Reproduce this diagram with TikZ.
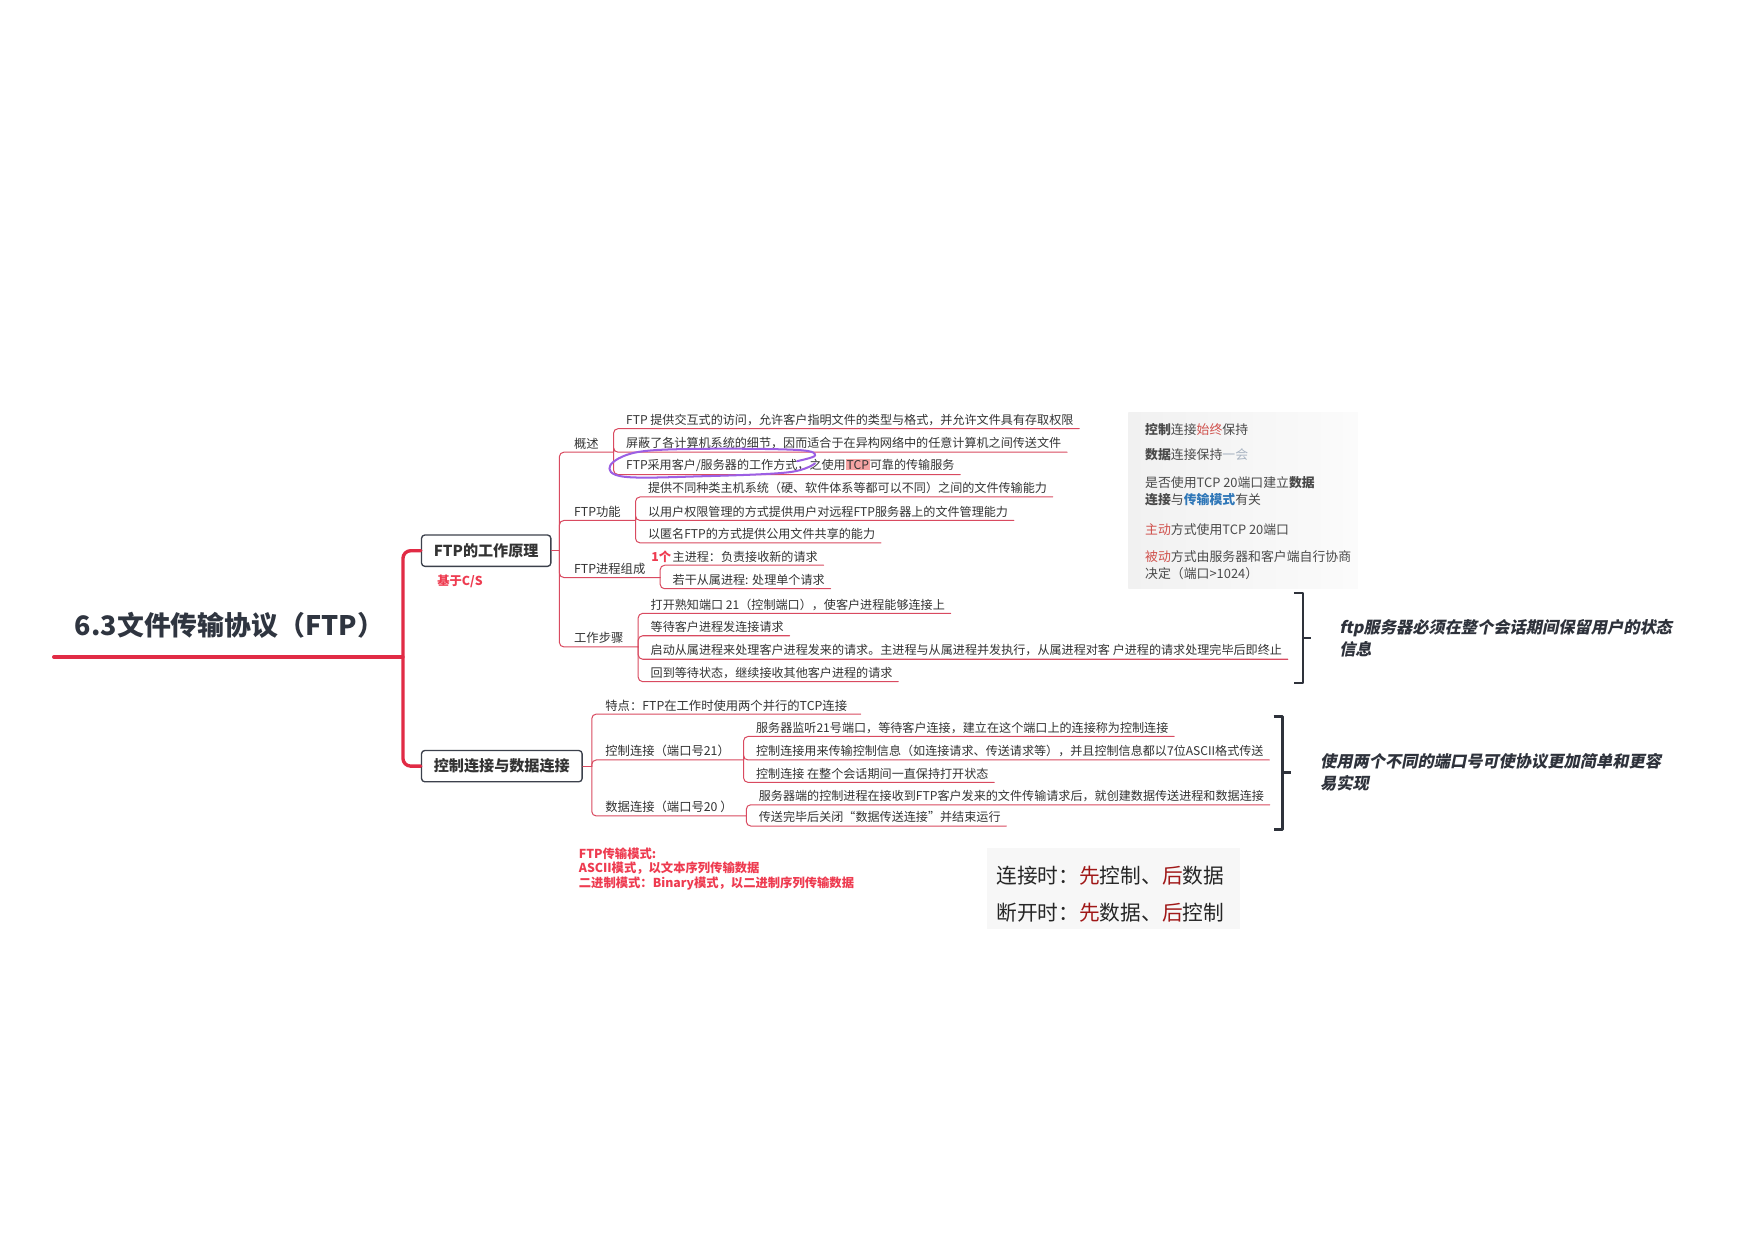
\documentclass[tikz,border=0pt]{standalone}
\usepackage{fontspec}
\setmainfont{Noto Sans CJK SC}
\newfontfamily\slantfont{Noto Sans CJK SC}[FakeSlant=0.2]
\usepackage{tikz}
\setlength{\fboxsep}{0.8pt}

\definecolor{mmred}{HTML}{E12B45}
\definecolor{brred}{HTML}{D94A60}
\definecolor{boxgray}{HTML}{3C414C}
\definecolor{titlegray}{HTML}{2F3540}
\definecolor{txtdark}{HTML}{333333}
\definecolor{notered}{HTML}{EE3B50}
\definecolor{loopviolet}{HTML}{9C5FE3}
\definecolor{tcppink}{HTML}{F5A3A3}
\definecolor{infogray}{HTML}{4A4A4A}
\definecolor{infored}{HTML}{D0504C}
\definecolor{infoblue}{HTML}{2F77B8}
\definecolor{infolight}{HTML}{A9B4C2}
\definecolor{deepred}{HTML}{A01818}
\definecolor{bracegray}{HTML}{2E323B}

\begin{document}
\begin{tikzpicture}[line cap=round,line join=round,x=1pt,y=-1pt,
    trunk/.style={line width=3pt,color=mmred,rounded corners=7pt},
    branch/.style={line width=0.9pt,color=brred,rounded corners=4pt},
    topic/.style={draw=boxgray,line width=1.2pt,rounded corners=3pt,fill=white,text=txtdark,
      font=\fontsize{13.5}{16}\selectfont\bfseries,minimum height=28pt,inner xsep=11pt,anchor=west},
    sub/.style={anchor=south west,inner xsep=13pt,inner ysep=2.5pt,text=txtdark,font=\fontsize{11}{13}\selectfont},
    subb/.style={sub,inner xsep=12pt},
    leaf/.style={anchor=south west,xshift=6pt,inner xsep=5pt,inner ysep=2.5pt,text=txtdark,font=\fontsize{10.8}{13}\selectfont},
    hint/.style={text=notered,font=\fontsize{11}{13}\selectfont\bfseries,align=left,inner sep=0pt},
    info/.style={anchor=west,inner sep=0pt,text=infogray,align=left,font=\fontsize{11.5}{15}\selectfont},
    note/.style={anchor=west,align=left,text=bracegray,font=\slantfont\bfseries\fontsize{14.5}{19.5}\selectfont},
    brace/.style={line width=2.2pt,color=bracegray,line cap=butt}]
\path[fill=white] (0,0) rectangle (1568,1108);

% root
\node[text=titlegray,font=\fontsize{24}{28}\selectfont\bfseries] (root) at (205,559) {6.3文件传输协议（FTP）};
\coordinate (rootL) at (48,587);
\coordinate (rootR) at (355,587);
\draw[trunk,rounded corners=0pt] (rootL) -- (rootR);
\node[topic] (wp) at (376,492) {FTP的工作原理};
\node[topic] (cd) at (376,684.5) {控制连接与数据连接};
\draw[trunk] (rootR) -- ([xshift=5pt]rootR);
\draw[trunk] (wp.west) -| ([xshift=5pt]rootR) |- (cd.west);
\node[text=notered,font=\fontsize{11}{13}\selectfont\bfseries] (cs) at (411,519) {基于C/S};

% FTP的工作原理
\coordinate (wpj) at ([xshift=7pt]wp.east);
\draw[branch] (wp.east) -- (wpj);
\node[sub] (gs) at (wpj |- 0,404) {概述};
\node[sub] (gn) at (wpj |- 0,465) {FTP功能};
\node[sub] (jc) at (wpj |- 0,516) {FTP进程组成};
\node[sub] (bz) at (wpj |- 0,578) {工作步骤};
\foreach \s in {gs,gn,jc,bz}
  \draw[branch] (wpj) |- (\s.south east);

\node[leaf] (a1) at (gs.south east |- 0,383) {FTP 提供交互式的访问，允许客户指明文件的类型与格式，并允许文件具有存取权限};
\node[leaf] (a2) at (gs.south east |- 0,404) {屏蔽了各计算机系统的细节，因而适合于在异构网络中的任意计算机之间传送文件};
\node[leaf] (a3) at (gs.south east |- 0,424) {FTP采用客户/服务器的工作方式，之使用\colorbox{tcppink}{TCP}可靠的传输服务};
\foreach \s in {a1,a2,a3}
  \draw[branch] (gs.south east) |- (\s.south east);
\begin{scope}[shift={(a3.south west)}]
  \draw[loopviolet,line width=1.8pt] plot[smooth,tension=0.6] coordinates {(158,-12) (174,-17) (158,-22) (73,-23) (15,-20) (-9,-8) (4,2) (73,1.5) (150,-2) (174,-10)};
\end{scope}

\node[leaf] (b1) at (gn.south east |- 0,444) {提供不同种类主机系统（硬、软件体系等都可以不同）之间的文件传输能力};
\node[leaf] (b2) at (gn.south east |- 0,465) {以用户权限管理的方式提供用户对远程FTP服务器上的文件管理能力};
\node[leaf] (b3) at (gn.south east |- 0,485) {以匿名FTP的方式提供公用文件共享的能力};
\foreach \s in {b1,b2,b3}
  \draw[branch] (gn.south east) |- (\s.south east);

\node[leaf] (c1) at (jc.south east |- 0,505) {主进程：负责接收新的请求};
\node[leaf] (c2) at (jc.south east |- 0,526) {若干从属进程: 处理单个请求};
\foreach \s in {c1,c2}
  \draw[branch] (jc.south east) |- (\s.south east);
\node[text=notered,font=\fontsize{11}{13}\selectfont\bfseries,anchor=east,inner sep=0pt,xshift=4pt] (onege) at (c1.west) {1个};

\node[leaf] (d1) at (bz.south east |- 0,548) {打开熟知端口 21（控制端口），使客户进程能够连接上};
\node[leaf] (d2) at (bz.south east |- 0,568) {等待客户进程发连接请求};
\node[leaf] (d3) at (bz.south east |- 0,589) {启动从属进程来处理客户进程发来的请求。主进程与从属进程并发执行，从属进程对客 户进程的请求处理完毕后即终止};
\node[leaf] (d4) at (bz.south east |- 0,609) {回到等待状态，继续接收其他客户进程的请求};
\foreach \s in {d1,d2,d3,d4}
  \draw[branch] (bz.south east) |- (\s.south east);

% 控制连接与数据连接
\coordinate (cdj) at ([xshift=8pt]cd.east);
\draw[branch] (cd.east) -- (cdj);
\node[subb] (td) at (cdj |- 0,638) {特点：FTP在工作时使用两个并行的TCP连接};
\node[subb] (kz) at (cdj |- 0,679) {控制连接（端口号21）};
\node[subb] (sj) at (cdj |- 0,729) {数据连接（端口号20 ）};
\foreach \s in {td,kz,sj}
  \draw[branch] (cdj) |- (\s.south east);

\node[leaf] (e1) at (kz.south east |- 0,658) {服务器监听21号端口，等待客户连接，建立在这个端口上的连接称为控制连接};
\node[leaf] (e2) at (kz.south east |- 0,679) {控制连接用来传输控制信息（如连接请求、传送请求等），并且控制信息都以7位ASCII格式传送};
\node[leaf] (e3) at (kz.south east |- 0,699) {控制连接 在整个会话期间一直保持打开状态};
\foreach \s in {e1,e2,e3}
  \draw[branch] (kz.south east) |- (\s.south east);

\node[leaf] (f1) at (sj.south east |- 0,719) {服务器端的控制进程在接收到FTP客户发来的文件传输请求后，就创建数据传送进程和数据连接};
\node[leaf] (f2) at (sj.south east |- 0,738) {传送完毕后关闭“数据传送连接”并结束运行};
\foreach \s in {f1,f2}
  \draw[branch] (sj.south east) |- (\s.south east);

% brackets
\coordinate (brA) at (1164,570);
\draw[brace] (1156,530) -- (1164,530) -- (1164,610) -- (1156,610);
\draw[brace] (brA) -- ++(7,0);
\node[note] (stateNote) at (1193,570) {ftp服务器必须在整个会话期间保留用户的状态\\信息};
\coordinate (brB) at (1146,690);
\draw[brace] (1138,640) -- (1146,640) -- (1146,741) -- (1138,741);
\draw[brace] (brB) -- ++(7,0);
\node[note] (portNote) at (1176,690) {使用两个不同的端口号可使协议更加简单和更容\\易实现};

% info box
\node[anchor=north west,minimum width=205pt,minimum height=158pt,inner sep=0pt,left color=gray!11,right color=gray!3] (infobox) at (1008,368) {};
\node[info] (i1) at (1023,384) {\textbf{控制}连接\textcolor{infored}{始终}保持};
\node[info] (i2) at (1023,406) {\textbf{数据}连接保持\textcolor{infolight}{一会}};
\node[info] (i3) at (1023,438.5) {是否使用TCP 20端口建立\textbf{数据}\\\textbf{连接}与\textcolor{infoblue}{\textbf{传输模式}}有关};
\node[info] (i4) at (1023,473) {\textcolor{infored}{主动}方式使用TCP 20端口};
\node[info] (i5) at (1023,505) {\textcolor{infored}{被动}方式由服务器和客户端自行协商\\决定（端口>1024）};

% transfer modes
\node[hint,anchor=north west] (mode) at (517,757) {FTP传输模式:\\ASCII模式，以文本序列传输数据\\二进制模式：Binary模式，以二进制序列传输数据};

% order box
\node[anchor=north west,fill=gray!6,minimum width=226pt,minimum height=73pt,inner sep=0pt] (orderbg) at (882,757) {};
\node[anchor=west,inner sep=0pt,font=\fontsize{18.5}{22}\selectfont,text=black!85] (o1) at (890,782) {连接时：\textcolor{deepred}{先}控制、\textcolor{deepred}{后}数据};
\node[anchor=west,inner sep=0pt,font=\fontsize{18.5}{22}\selectfont,text=black!85] (o2) at (890,815) {断开时：\textcolor{deepred}{先}数据、\textcolor{deepred}{后}控制};
\end{tikzpicture}
\end{document}
